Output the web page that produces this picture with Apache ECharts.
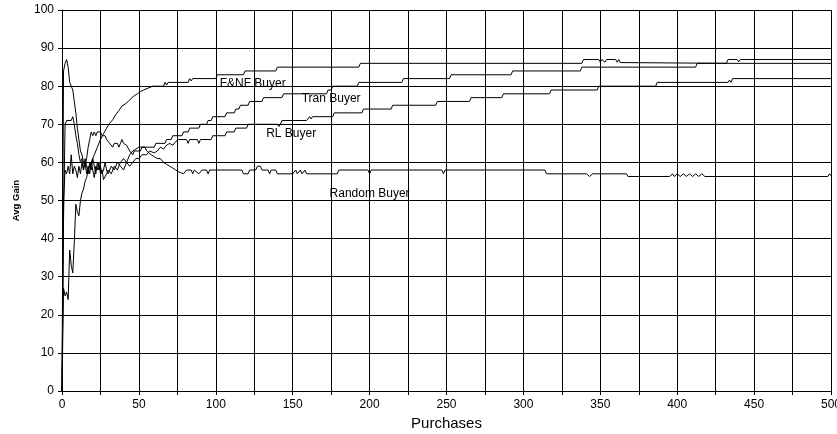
<!DOCTYPE html>
<html>
<head>
<meta charset="utf-8">
<script src="https://cdn.jsdelivr.net/npm/echarts@6/dist/echarts.min.js"></script>
<style>
html,body{margin:0;padding:0;background:#fff;}
#chart{width:837px;height:434px;}
</style>
</head>
<body>
<div id="chart"></div>
<script>
// ---- data (purchase number, average gain) ----
var seriesNames = ['F&NF Buyer', 'Tran Buyer', 'RL Buyer', 'Random Buyer'];

var fnfPoints = [[0,0],[1,27],[2,25],[3,26],[4,24],[5,37],[6,33],[7,31],[8,39],[9,49],[10,47],[11,46],[12,50],[13,52],[14,53],[15,55],[16,56],[17,58],[19,60],[21,62],[23,64],[25,66],[27,67.5],[29,69],[31,70.3],[33,71.2],[35,72.6],[37,73.6],[39,74.8],[41,75.3],[43,76],[45,76.8],[47,77.5],[49,78],[51,78.6],[53,79],[56,79.5],[59,80],[66,80],[67,81],[68,80.3],[69,81],[82,81],[83,82],[84,81.4],[85,82],[100,82],[101,83],[118,83],[119,84],[139,84],[140,85],[193,85],[194,86],[338,86],[339,87],[349,87],[350,86.3],[351,87],[353,86.3],[354,87],[360,87],[361,86.3],[362,87],[363,86.2],[432,86],[433,87],[439,87],[440,86.4],[441,87],[500,87]];

var tranPoints = [[0,0],[1,45],[2,70],[3,71],[6,71],[7,72],[8,70],[9,67],[10,65],[11,62],[12,60],[13,61],[14,58],[15,60],[16,57],[17,59],[18,57],[19,60],[20,58],[21,56],[22,59],[23,58],[24,60],[25,57],[26,58],[27,55.5],[28,56],[29,57],[30,58],[32,57],[34,59],[36,58],[38,60],[40,61],[42,60],[44,62],[46,63],[48,63.5],[50,64],[60,64],[61,65],[67,65],[68,66],[71,66],[72,67],[78,67],[79,68],[82,68],[83,69],[89,69],[90,70],[94,70],[95,71],[97,71],[98,72],[106,72],[107,73],[112,73],[113,74],[115,74],[116,75],[121,75],[122,76],[130,76],[131,77],[143,77],[144,78],[172,78],[173,79],[175,79],[176,80],[192,80],[193,81],[221,81],[222,82],[252,82],[253,83],[292,83],[293,84],[337,84],[338,85],[412,85],[413,86],[500,86]];

var rlPoints = [[0,0],[1,50],[2,58],[3,57],[4,59],[5,57],[6,62],[7,57],[8,59],[9,58],[10,56],[11,59],[12,57],[13,60],[14,58],[15,61],[16,59],[17,57],[18,60],[19,58],[20,61],[21,59],[22,57],[23,60],[24,58],[25,59],[26,57],[27,58],[28,60],[29,58],[30,57],[32,59],[34,58],[36,60],[38,59],[40,58],[42,60],[44,59],[46,60],[48,61],[50,61],[52,62],[55,62],[57,63],[60,62.5],[62,63],[64,64],[66,63.5],[68,64.5],[70,65],[72,64.5],[74,65.5],[76,66],[81,66],[82,65],[83,66],[88,66],[89,65],[90,66],[97,66],[98,67],[106,67],[107,68],[112,68],[113,69],[120,69],[121,70],[140,70],[141,69.4],[142,70],[143,71],[159,71],[161,72],[162,71.4],[163,72],[176,72],[177,73],[195,73],[196,74],[214,74],[215,75],[243,75],[244,76],[265,76],[266,77],[286,77],[287,78],[317,78],[318,79],[348,79],[349,80],[386,80],[387,81],[433,81],[434,81.6],[435,81],[436,82],[500,82]];

var randomPoints = [[0,0],[1,84],[2,86],[3,87],[4,85],[5,81],[6,81],[7,79],[8,76],[9,73],[10,69],[11,66],[12,63],[13,62],[14,60],[15,59],[16,61],[17,64],[18,66],[19,68],[20,67],[21,68],[22,67],[23,68],[24,67.5],[25,68],[26,67],[27,66.5],[28,67],[29,66],[30,66.5],[31,65],[32,64.5],[33,64],[34,65],[35,65.5],[36,65],[37,64],[38,65],[39,66],[40,65],[41,65.5],[42,64.5],[43,64],[44,63],[45,62.5],[46,62],[47,63],[48,62.5],[49,63],[50,63.5],[51,63],[52,64],[53,63.5],[54,64],[55,63],[56,62.5],[58,62],[60,61.5],[62,61],[64,61],[66,60],[68,59.5],[70,59],[72,58.5],[74,58],[76,57.5],[77,58],[79,57],[81,58],[84,58],[85,57],[86,58],[89,57],[91,58],[94,58],[95,57],[96,58],[117,58],[118,57],[121,57],[122,58],[126,58],[127,59],[129,59],[130,58],[134,58],[135,57],[136,58],[139,58],[140,57],[150,57],[152,58],[153,57],[155,58],[156,57],[158,58],[159,57],[179,57],[180,58],[199,58],[200,57],[201,58],[247,58],[248,57],[249,58],[314,58],[315,57],[341,57],[343,56.3],[345,57],[367,57],[368,56.3],[395,56.3],[397,57],[398,56.3],[400,57],[402,56.3],[404,57],[406,56.3],[408,57],[410,56.3],[412,57],[414,56.3],[416,57],[418,56.3],[498,56.3],[499,57],[500,56.5]];

// label anchor positions in data units [purchases, gain]
var labelAnchors = [[124, 80.6], [175, 76.8], [149, 67.6], [200, 51.8]];

var xTicks = {min: 0, max: 500, step: 25, labelStep: 50};
var yTicks = {min: 0, max: 100, step: 10};

var FONT = 'Liberation Sans, Arial, Helvetica, sans-serif';

function makeSeries(name, pts, anchor) {
  return {
    name: name,
    type: 'line',
    data: pts,
    symbol: 'none',
    showSymbol: false,
    smooth: false,
    silent: true,
    animation: false,
    lineStyle: {color: '#000', width: 1},
    markPoint: {
      animation: false,
      symbol: 'circle',
      symbolSize: 1,
      itemStyle: {color: 'rgba(0,0,0,0)'},
      label: {show: true, position: 'inside', formatter: name, color: '#000', fontSize: 12, fontFamily: FONT},
      data: [{coord: anchor}]
    }
  };
}

var chart = echarts.init(document.getElementById('chart'), null, {renderer: 'canvas'});
chart.setOption({
  animation: false,
  backgroundColor: '#fff',
  grid: {left: 62, right: 6, top: 10, bottom: 43, containLabel: false, outerBoundsMode: 'none'},
  xAxis: {
    type: 'value',
    min: xTicks.min, max: xTicks.max, interval: xTicks.step,
    name: 'Purchases',
    nameLocation: 'middle',
    nameGap: 25,
    nameTextStyle: {fontSize: 15, color: '#000', fontFamily: FONT},
    axisLine: {show: true, lineStyle: {color: '#000', width: 1}},
    axisTick: {show: true, length: 4, lineStyle: {color: '#000'}},
    splitLine: {show: true, lineStyle: {color: '#000', width: 1}},
    axisLabel: {
      color: '#000', fontSize: 12, fontFamily: FONT, margin: 8,
      formatter: function (v) { return v % xTicks.labelStep === 0 ? String(v) : ''; }
    }
  },
  yAxis: {
    type: 'value',
    min: yTicks.min, max: yTicks.max, interval: yTicks.step,
    name: 'Avg Gain',
    nameLocation: 'middle',
    nameRotate: 90,
    nameGap: 41,
    nameTextStyle: {fontSize: 9.5, fontWeight: 'bold', color: '#000', fontFamily: FONT},
    axisLine: {show: true, lineStyle: {color: '#000', width: 1}},
    axisTick: {show: true, length: 4, lineStyle: {color: '#000'}},
    splitLine: {show: true, lineStyle: {color: '#000', width: 1}},
    axisLabel: {color: '#000', fontSize: 12, fontFamily: FONT, margin: 8}
  },
  series: [
    makeSeries(seriesNames[0], fnfPoints, labelAnchors[0]),
    makeSeries(seriesNames[1], tranPoints, labelAnchors[1]),
    makeSeries(seriesNames[2], rlPoints, labelAnchors[2]),
    makeSeries(seriesNames[3], randomPoints, labelAnchors[3])
  ]
});
</script>
</body>
</html>
